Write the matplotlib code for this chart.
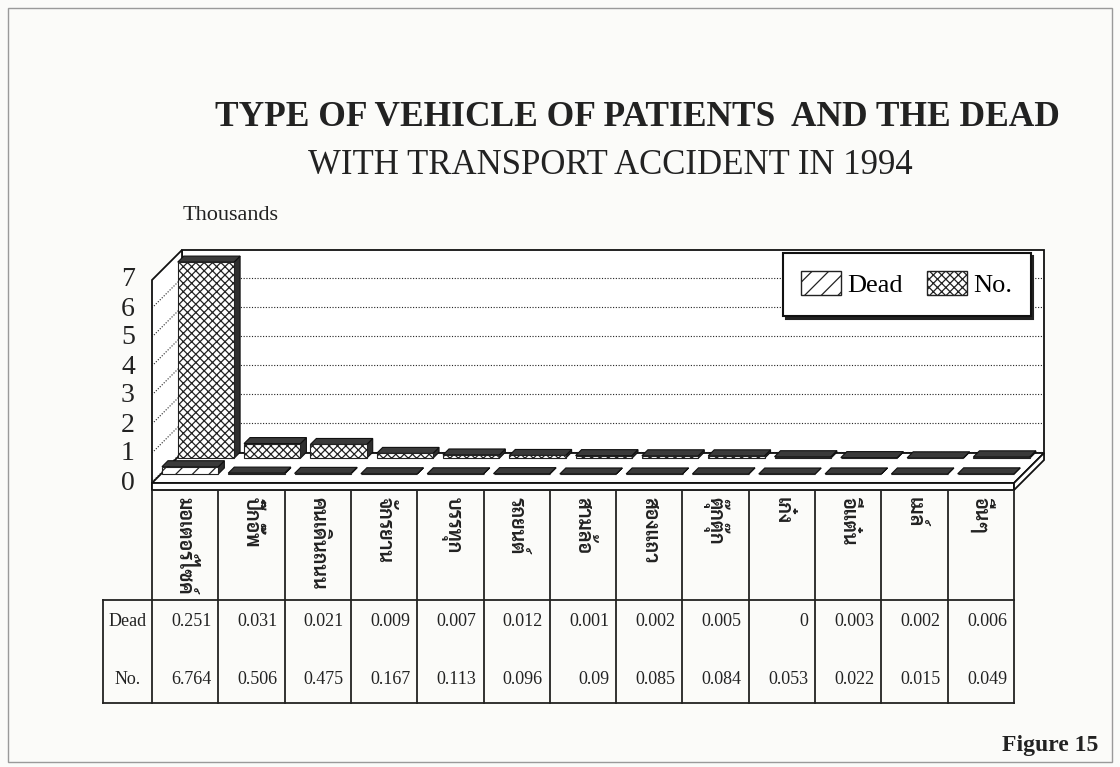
import matplotlib
matplotlib.use('Agg')
import matplotlib.pyplot as plt
from matplotlib.patches import Polygon, Patch, Rectangle
from matplotlib import font_manager

# data (thousands)
vehicles = ['มอเตอร์ไซค์', 'ปิ๊กอั๊พ', 'คนเดินถนน', 'จักรยาน', 'บรรทุก', 'รถยนต์',
            'สามล้อ', 'สองแถว', 'ตุ๊กตุ๊ก', 'เก๋ง', 'อีแต๋น', 'เมล์', 'อื่นๆ']
dead = [0.251, 0.031, 0.021, 0.009, 0.007, 0.012, 0.001, 0.002, 0.005, 0, 0.003, 0.002, 0.006]
total = [6.764, 0.506, 0.475, 0.167, 0.113, 0.096, 0.09, 0.085, 0.084, 0.053, 0.022, 0.015, 0.049]
y_ticks = [0, 1, 2, 3, 4, 5, 6, 7]

W, H = 1120, 767
PX_CAT = 66.31   # pixels per category
PX_VAL = 29.0    # pixels per thousand
ROW_X = 15.0 / PX_CAT   # oblique offset of one depth row
ROW_Y = 15.0 / PX_VAL

installed = {f.name for f in font_manager.fontManager.ttflist}
thai_family = [f for f in ['Sarabun', 'Noto Sans Thai Looped', 'Noto Sans Thai'] if f in installed] + ['DejaVu Sans']


def fig_rect(l, t, r, b):
    return [l / W, 1 - b / H, (r - l) / W, (b - t) / H]


def bar3d(ax, xc, h, d0, hatch, z):
    w, dd = 0.85, 0.4
    x0 = xc - w / 2 + d0 * ROW_X
    x1 = x0 + w
    y0 = d0 * ROW_Y
    ex, ey = dd * ROW_X, dd * ROW_Y
    ax.add_patch(Polygon([(x1, y0), (x1 + ex, y0 + ey), (x1 + ex, y0 + ey + h), (x1, y0 + h)],
                         facecolor='#2e2e2e', edgecolor='#111', lw=0.8, zorder=z))
    ax.add_patch(Polygon([(x0, y0 + h), (x1, y0 + h), (x1 + ex, y0 + h + ey), (x0 + ex, y0 + h + ey)],
                         facecolor='#3a3a3a', edgecolor='#111', lw=0.8, zorder=z))
    ax.add_patch(Rectangle((x0, y0), w, h, facecolor='white', edgecolor='#222',
                           hatch=hatch, lw=0.8, zorder=z))


plt.rcParams['font.family'] = ['Liberation Serif', 'DejaVu Serif']
plt.rcParams['hatch.linewidth'] = 0.9

fig = plt.figure(figsize=(W / 100, H / 100), dpi=100, facecolor='#fbfbf9')
fig.add_artist(Rectangle((8 / W, 5 / H), 1104 / W, 754 / H, transform=fig.transFigure,
                         fill=False, edgecolor='#9a9a9a', lw=1))

fig.text(637 / W, 1 - 118 / H, 'TYPE OF VEHICLE OF PATIENTS  AND THE DEAD',
         ha='center', va='center', fontsize=25.5, fontweight='bold', color='#222')
fig.text(610 / W, 1 - 166 / H, 'WITH TRANSPORT ACCIDENT IN 1994',
         ha='center', va='center', fontsize=25, color='#222')
fig.text(183 / W, 1 - 215 / H, 'Thousands', ha='left', va='center', fontsize=16, color='#222')
fig.text(1098 / W, 1 - 745 / H, 'Figure 15', ha='right', va='center', fontsize=17,
         fontweight='bold', color='#222')

# chart
ax = fig.add_axes(fig_rect(95, 235, 1065, 495))
ax.set_xlim(-0.5 - 57 / PX_CAT, -0.5 + 913 / PX_CAT)
ax.set_ylim(-12 / PX_VAL, 248 / PX_VAL)
ax.axis('off')

n = len(vehicles)
xl, xr = -0.5, n - 0.5
dx, dy = 2 * ROW_X, 2 * ROW_Y
th = 7 / PX_VAL
top = 233 / PX_VAL
edge = dict(facecolor='white', edgecolor='#111', lw=1.3)

ax.add_patch(Polygon([(xl + dx, dy), (xr + dx, dy), (xr + dx, top), (xl + dx, top)], zorder=1, **edge))
ax.add_patch(Polygon([(xl, -th), (xl + dx, dy - th), (xl + dx, top), (xl, top - dy)], zorder=1, **edge))
ax.add_patch(Polygon([(xl, 0), (xr, 0), (xr + dx, dy), (xl + dx, dy)], zorder=1, **edge))
ax.add_patch(Polygon([(xl, -th), (xr, -th), (xr, 0), (xl, 0)], zorder=1, **edge))
ax.add_patch(Polygon([(xr, -th), (xr + dx, dy - th), (xr + dx, dy), (xr, 0)], zorder=1, **edge))

for v in y_ticks[1:]:
    g = v + 0.07
    ax.plot([xl + dx, xr + dx], [g, g], color='#222', lw=0.8, ls=(0, (1, 1.5)), zorder=2)
    ax.plot([xl, xl + dx], [g - dy, g], color='#222', lw=0.8, ls=(0, (1, 1.5)), zorder=2)
for v in y_ticks:
    ax.text(xl - 24 / PX_CAT, v, str(v), ha='center', va='center', fontsize=20, color='#222')

shift = -4 / PX_CAT
for i in range(n):
    bar3d(ax, i + shift, total[i], 1.65, 'xxxx', 3 + i * 0.01)
for i in range(n):
    bar3d(ax, i + shift, dead[i], 0.6, '//', 4 + i * 0.01)

leg = ax.legend(handles=[Patch(facecolor='white', edgecolor='#222', hatch='//', label='Dead'),
                         Patch(facecolor='white', edgecolor='#222', hatch='xxxx', label='No.')],
                ncol=2, loc='upper left', bbox_to_anchor=(783 / W, 1 - 253 / H),
                bbox_transform=fig.transFigure, fancybox=False,
                shadow={'color': '#222', 'alpha': 1}, prop={'size': 19},
                handlelength=1.5, handleheight=1.0, handletextpad=0.25,
                columnspacing=0.9, borderpad=0.7, borderaxespad=0)
leg.get_frame().set_edgecolor('#111')
leg.get_frame().set_linewidth(1.5)
leg.set_zorder(10)

# data table under the chart
tab = fig.add_axes(fig_rect(95, 490, 1065, 705))
tab.set_xlim(ax.get_xlim())
tab.set_ylim(215, 0)
tab.axis('off')
lab_left = xl - 49 / PX_CAT
line = dict(color='#222', lw=1.3)
tab.plot([xl, xr], [0, 0], **line)
tab.plot([lab_left, xr], [110, 110], **line)
tab.plot([lab_left, xr], [213, 213], **line)
tab.plot([lab_left, lab_left], [110, 213], **line)
for k in range(n + 1):
    tab.plot([xl + k, xl + k], [0, 213], **line)

for i, name in enumerate(vehicles):
    tab.text(i, 7, name, rotation=270, ha='center', va='top', fontsize=14, fontweight='bold',
             family=thai_family, color='#222')
    tab.text(i + 0.5 - 7 / PX_CAT, 132, f'{dead[i]:g}', ha='right', va='center', fontsize=13, color='#222')
    tab.text(i + 0.5 - 7 / PX_CAT, 190, f'{total[i]:g}', ha='right', va='center', fontsize=13, color='#222')
tab.text(xl - 24.5 / PX_CAT, 132, 'Dead', ha='center', va='center', fontsize=13, color='#222')
tab.text(xl - 24.5 / PX_CAT, 190, 'No.', ha='center', va='center', fontsize=13, color='#222')

fig.savefig('out.png', dpi=100, facecolor=fig.get_facecolor())
